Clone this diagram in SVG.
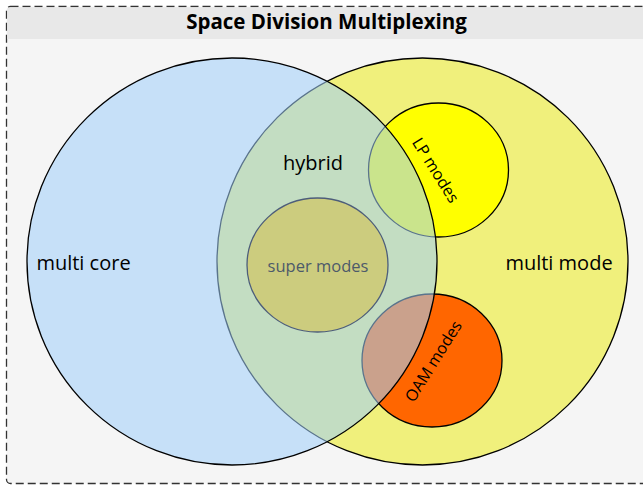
<svg xmlns="http://www.w3.org/2000/svg" width="643" height="486" viewBox="0 0 643 486">
<style>
  text { font-family: "Open Sans", "Noto Sans", "DejaVu Sans", sans-serif; }
  .lbl { font-size: 20px; fill: #000; }
  .small { font-size: 16px; fill: #000; }
  .ring { stroke: #000; stroke-width: 1.3; }
</style>
<g id="frame">
  <rect x="6.5" y="6.5" width="650" height="477" rx="4" fill="#f5f5f5" stroke="#333" stroke-width="1.3" stroke-dasharray="8 4"/>
  <path d="M7.2,39 L7.2,10 Q7.2,7.2 10,7.2 L643,7.2 L643,39 Z" fill="#e8e8e8"/>
  <text x="326.5" y="29" text-anchor="middle" style="font-size:20.5px;font-weight:bold" fill="#000">Space Division Multiplexing</text>
</g>
<g id="multi-mode">
  <ellipse cx="422.5" cy="261.5" rx="205.5" ry="203.5" fill="#f0f07c" class="ring"/>
  <text x="559" y="270" text-anchor="middle" class="lbl">multi mode</text>
</g>
<g id="lp-modes">
  <ellipse cx="438.5" cy="170" rx="70" ry="67" fill="#ffff00" class="ring"/>
  <text x="0" y="0" text-anchor="middle" class="small" transform="translate(436,170) rotate(58)" dy="6">LP modes</text>
</g>
<g id="oam-modes">
  <ellipse cx="432" cy="360.5" rx="70" ry="66.5" fill="#ff6600" class="ring"/>
  <text x="0" y="0" text-anchor="middle" class="small" transform="translate(433,361) rotate(-58)" dy="6">OAM modes</text>
</g>
<g id="multi-core">
  <ellipse cx="232" cy="261.5" rx="205" ry="203.5" fill="#a1cffa" fill-opacity="0.56" class="ring"/>
  <text x="83.5" y="270" text-anchor="middle" class="lbl">multi core</text>
</g>
<g id="hybrid">
  <text x="313" y="170" text-anchor="middle" class="lbl">hybrid</text>
</g>
<g id="super-modes">
  <ellipse cx="317.5" cy="265" rx="70.5" ry="67" fill="#cccc7e" stroke="#4d5d7a" stroke-width="1.3"/>
  <text x="318" y="272" text-anchor="middle" style="font-size:16.5px" fill="#4d5a6a">super modes</text>
</g>
<g id="connectors"/>
</svg>
